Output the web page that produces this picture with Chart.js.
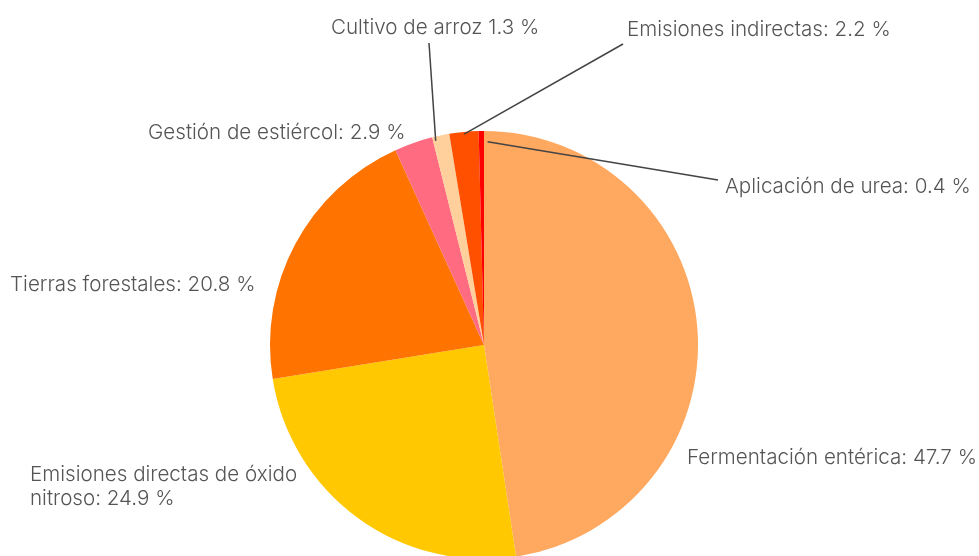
<!DOCTYPE html>
<html>
<head>
<meta charset="utf-8">
<script src="https://cdn.jsdelivr.net/npm/chart.js@4/dist/chart.umd.min.js"></script>
<style>
  html, body { margin: 0; padding: 0; background: #fff; overflow: hidden; }
  #wrap { width: 979px; height: 556px; position: relative; }
</style>
</head>
<body>
<div id="wrap"><canvas id="pieChart" width="979" height="556"></canvas></div>
<script>
// slices, clockwise from 12 o'clock
const categories = [
  'Fermentación entérica',
  'Emisiones directas de óxido nitroso',
  'Tierras forestales',
  'Gestión de estiércol',
  'Cultivo de arroz',
  'Emisiones indirectas',
  'Aplicación de urea',
];
const shares = [47.7, 24.9, 20.8, 2.9, 1.3, 2.2, 0.4];
const sliceColors = ['#ffa85f', '#ffc800', '#ff7400', '#ff6b80', '#ffd09b', '#ff5000', '#ff0000'];

// label text for each slice (some split over two lines, one without colon)
const labelLines = [
  ['Fermentación entérica: 47.7 %'],
  ['Emisiones directas de óxido', 'nitroso: 24.9 %'],
  ['Tierras forestales: 20.8 %'],
  ['Gestión de estiércol: 2.9 %'],
  ['Cultivo de arroz 1.3 %'],
  ['Emisiones indirectas: 2.2 %'],
  ['Aplicación de urea: 0.4 %'],
];

// where each label sits; leader = [radius factor, line end x, line end y] or null
const labelLayout = [
  { x: 687, y: 464, leader: null },
  { x: 30, y: 481, leader: null },
  { x: 10, y: 291, leader: null },
  { x: 148, y: 139, leader: null },
  { x: 331, y: 34, leader: [0.98, 429, 43], angleShift: -0.35 },
  { x: 627, y: 36, leader: [0.99, 623, 44], angleShift: 0 },
  { x: 725, y: 193, leader: [0.95, 718, 180], angleShift: 1.2 },
];

const FONT = '300 20.6px Inter, "Noto Sans", sans-serif';
const TEXT_COLOR = '#555555';
const LINE_COLOR = '#444444';

const pieLabels = {
  id: 'pieLabels',
  afterDraw(chart) {
    const ctx = chart.ctx;
    const arcs = chart.getDatasetMeta(0).data;
    ctx.save();
    ctx.font = FONT;
    ctx.fillStyle = TEXT_COLOR;
    ctx.textBaseline = 'alphabetic';
    ctx.textAlign = 'left';
    labelLayout.forEach((lay, i) => {
      const arc = arcs[i];
      if (lay.leader) {
        const { x, y, startAngle, endAngle, outerRadius } = arc.getProps(
          ['x', 'y', 'startAngle', 'endAngle', 'outerRadius'], true);
        const span = endAngle - startAngle;
        const mid = startAngle + span / 2 + span * (lay.angleShift || 0);
        const r = outerRadius * lay.leader[0];
        ctx.beginPath();
        ctx.strokeStyle = LINE_COLOR;
        ctx.lineWidth = 1.5;
        ctx.moveTo(x + Math.cos(mid) * r, y + Math.sin(mid) * r);
        ctx.lineTo(lay.leader[1], lay.leader[2]);
        ctx.stroke();
      }
      labelLines[i].forEach((line, k) => {
        ctx.fillText(line, lay.x, lay.y + k * 24);
      });
    });
    ctx.restore();
  },
};

new Chart(document.getElementById('pieChart'), {
  type: 'pie',
  data: {
    labels: categories,
    datasets: [{
      data: shares,
      backgroundColor: sliceColors,
      borderWidth: 0,
      radius: 214,
    }],
  },
  options: {
    responsive: false,
    animation: false,
    layout: { padding: { top: 134, bottom: 0, left: 0, right: 11 } },
    plugins: {
      legend: { display: false },
      tooltip: { enabled: false },
    },
  },
  plugins: [pieLabels],
});
</script>
</body>
</html>
